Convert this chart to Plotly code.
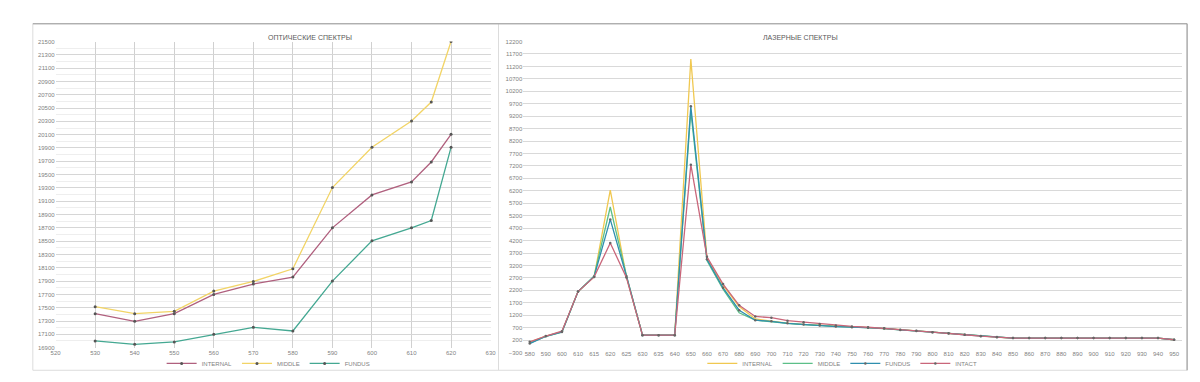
import plotly.graph_objects as go

# ---------------- data ----------------
opt_wavelength = [530, 540, 550, 560, 570, 580, 590, 600, 610, 615, 620]
opt_internal = [17410, 17295, 17410, 17700, 17855, 17960, 18700, 19195, 19390, 19690, 20105]
opt_middle = [17515, 17410, 17445, 17750, 17895, 18085, 19305, 19910, 20305, 20590, 21500]
opt_fundus = [17000, 16950, 16985, 17100, 17205, 17150, 17900, 18505, 18700, 18810, 19910]

las_categories = ["580", "590", "600", "610", "615", "620", "625", "630", "635", "640",
                  "650", "660", "670", "680", "690", "700", "710", "720", "730", "740",
                  "750", "760", "770", "780", "790", "800", "810", "820", "830", "840",
                  "850", "860", "870", "880", "890", "900", "910", "920", "930", "940", "950"]
las_internal = [120, 360, 540, 2150, 2750, 6230, 2750, 400, 400, 400,
                11500, 3500, 2400, 1550, 1050, 960, 880, 830, 790, 750,
                720, 700, 670, 610, 570, 520, 470, 415, 360, 320,
                280, 280, 280, 280, 280, 280, 280, 280, 280, 280, 215]
las_middle = [80, 350, 520, 2150, 2780, 5550, 2800, 400, 400, 400,
              9400, 3400, 2250, 1300, 1000, 950, 870, 820, 780, 745,
              720, 700, 670, 610, 570, 520, 470, 415, 360, 320,
              280, 280, 280, 280, 280, 280, 280, 280, 280, 280, 215]
las_fundus = [60, 355, 530, 2150, 2760, 5050, 2780, 400, 400, 400,
              9600, 3450, 2300, 1400, 1000, 955, 875, 825, 785, 745,
              720, 700, 670, 610, 570, 520, 470, 415, 360, 320,
              280, 280, 280, 280, 280, 280, 280, 280, 280, 280, 215]
las_intact = [130, 365, 560, 2150, 2740, 4100, 2720, 400, 400, 400,
              7250, 3550, 2450, 1600, 1150, 1100, 980, 915, 850, 790,
              750, 716, 677, 613, 573, 518, 478, 415, 359, 319,
              280, 280, 280, 280, 280, 280, 280, 280, 280, 280, 215]

W, H = 1200, 382
def px(x):
    return x / W
def py(y):
    return 1 - y / H

FONT = "Liberation Sans"
TXT = "#7f7f7f"

fig = go.Figure()

# ---------- left chart ----------
opt_series = [("INTERNAL", opt_internal, "#b0607e"),
              ("MIDDLE", opt_middle, "#f2d466"),
              ("FUNDUS", opt_fundus, "#44a892")]
for name, vals, col in opt_series:
    fig.add_trace(go.Scatter(x=opt_wavelength, y=vals, name=name, mode="lines+markers",
                             line=dict(color=col, width=1.3),
                             marker=dict(size=3, color="#555555"),
                             xaxis="x", yaxis="y", legend="legend"))

# ---------- right chart ----------
las_series = [("INTERNAL", las_internal, "#f0c850", False),
              ("MIDDLE", las_middle, "#5cbf88", False),
              ("FUNDUS", las_fundus, "#2f8fae", True),
              ("INTACT", las_intact, "#c9667a", True)]
for name, vals, col, mk in las_series:
    fig.add_trace(go.Scatter(x=las_categories, y=vals, name=name,
                             mode="lines+markers" if mk else "lines",
                             line=dict(color=col, width=1.3),
                             marker=dict(size=2.5, color="#666666"),
                             xaxis="x2", yaxis="y2", legend="legend2"))

axis_font = dict(family=FONT, size=6, color=TXT)

fig.update_layout(
    width=W, height=H,
    margin=dict(l=0, r=0, t=0, b=0),
    paper_bgcolor="white", plot_bgcolor="white",
    font=dict(family=FONT, size=6, color=TXT),
    xaxis=dict(domain=[px(43), px(482)], range=[520, 630], dtick=10, tick0=520,
               showgrid=True, gridcolor="#d0d0d0", gridwidth=1, tickformat="d",
               showline=False, zeroline=False, tickfont=axis_font, anchor="y",
               ticks=""),
    yaxis=dict(domain=[py(342), py(31)], range=[16900, 21500], dtick=200, tick0=16900,
               showgrid=True, gridcolor="#d6d6d6", zeroline=False, showline=False,
               tickfont=axis_font, anchor="x", ticks="", tickformat="d",
               minor=dict(dtick=100, showgrid=True, gridcolor="#eeeeee")),
    xaxis2=dict(domain=[px(515), px(1180)], type="category", range=[-0.4, 40.5],
                showgrid=False, zeroline=False, showline=False, tickfont=axis_font,
                anchor="y2", ticks="", tickangle=0, ticklabelstandoff=-4),
    yaxis2=dict(domain=[py(347), py(31)], range=[-300, 12200], dtick=500, tick0=-300,
                showgrid=True, gridcolor="#d9d9d9", zeroline=False, showline=False,
                tickfont=axis_font, anchor="x2", ticks="", tickformat="d"),
    legend=dict(orientation="h", x=px(258), xanchor="center", y=py(358), yanchor="middle",
                font=dict(family=FONT, size=6, color=TXT), itemwidth=30,
                bgcolor="rgba(0,0,0,0)", tracegroupgap=0),
    legend2=dict(orientation="h", x=px(837), xanchor="center", y=py(358), yanchor="middle",
                 font=dict(family=FONT, size=6, color=TXT), itemwidth=30,
                 bgcolor="rgba(0,0,0,0)", tracegroupgap=0),
    showlegend=True,
)

# titles
fig.add_annotation(text="ОПТИЧЕСКИЕ СПЕКТРЫ", x=px(255), y=py(21), xref="paper", yref="paper",
                   showarrow=False, font=dict(family=FONT, size=7, color="#595959"))
fig.add_annotation(text="ЛАЗЕРНЫЕ СПЕКТРЫ", x=px(835), y=py(21), xref="paper", yref="paper",
                   showarrow=False, font=dict(family=FONT, size=7, color="#595959"))

# panel frames
fig.add_shape(type="rect", xref="paper", yref="paper", x0=px(20), x1=px(490), y0=py(365), y1=py(13),
              line=dict(color="#dcdcdc", width=1), layer="below")
fig.add_shape(type="rect", xref="paper", yref="paper", x0=px(490), x1=px(1185), y0=py(365), y1=py(13),
              line=dict(color="#dcdcdc", width=1), layer="below")
fig.add_shape(type="line", xref="paper", yref="paper", x0=px(1185), x1=px(1185), y0=py(365), y1=py(13),
              line=dict(color="#b0b0b0", width=1.5))
fig.add_shape(type="line", xref="paper", yref="paper", x0=px(20), x1=px(1185), y0=py(13), y1=py(13),
              line=dict(color="#9a9a9a", width=1))

fig.write_html("out.html")
